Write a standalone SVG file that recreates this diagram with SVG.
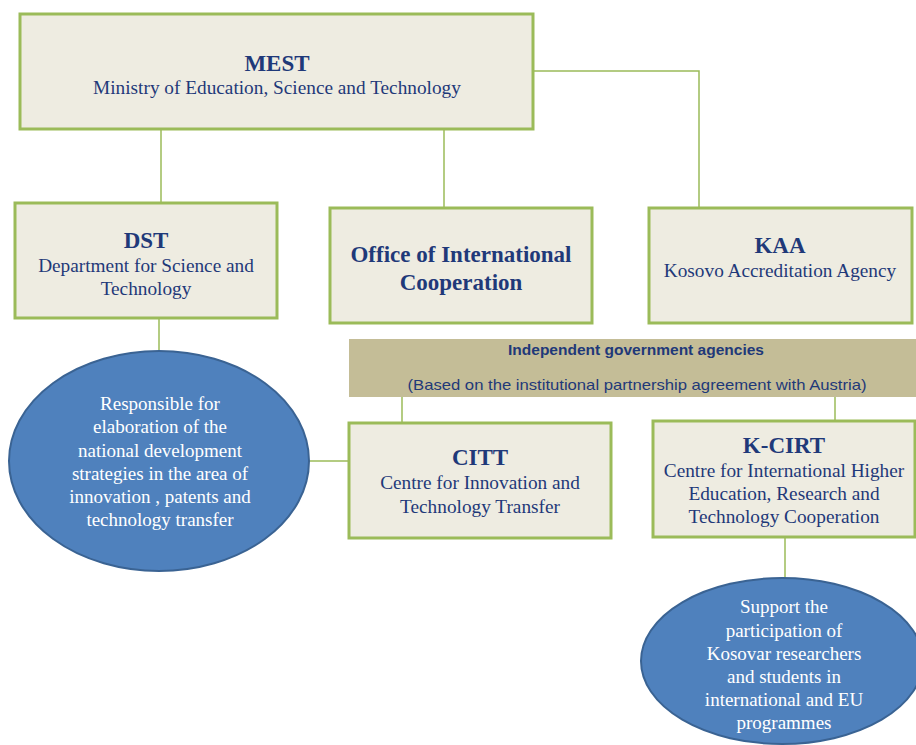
<svg xmlns="http://www.w3.org/2000/svg" width="916" height="745" viewBox="0 0 916 745">
<style>
.box{fill:#eeece1;stroke:#9bbb59;stroke-width:3}
.oval{fill:#4f81bd;stroke:#3a6393;stroke-width:2}
.conn{fill:none;stroke:#9bbb59;stroke-width:1.5}
.t{font-family:"Liberation Serif","Times New Roman",serif;fill:#1f3979;text-anchor:middle;font-size:19.3px}
.b{font-weight:bold;font-size:23px}
.w{font-family:"Liberation Serif","Times New Roman",serif;fill:#ffffff;text-anchor:middle;font-size:19px}
.s{font-family:"Liberation Sans",Arial,sans-serif;fill:#1f3979;text-anchor:middle;font-size:15px}
</style>
<rect width="916" height="745" fill="#ffffff"/>
<g id="connectors">
<polyline class="conn" points="533,71 699,71 699,208"/>
<line class="conn" x1="161" y1="129" x2="161" y2="203"/>
<line class="conn" x1="444" y1="129" x2="444" y2="208"/>
<line class="conn" x1="159" y1="318" x2="159" y2="351"/>
<line class="conn" x1="309" y1="461" x2="349" y2="461"/>
<line class="conn" x1="402" y1="397" x2="402" y2="423"/>
<line class="conn" x1="835" y1="397" x2="835" y2="421"/>
<line class="conn" x1="785" y1="537" x2="785" y2="578"/>
</g>
<g id="mest">
<rect class="box" x="20" y="14" width="513" height="115"/>
<text class="t b" x="277" y="71">MEST</text>
<text class="t" x="277" y="94">Ministry of Education, Science and Technology</text>
</g>
<g id="dst">
<rect class="box" x="15" y="203" width="262" height="115"/>
<text class="t b" x="146" y="248">DST</text>
<text class="t" x="146" y="272">Department for Science and</text>
<text class="t" x="146" y="295">Technology</text>
</g>
<g id="office">
<rect class="box" x="330" y="208" width="262" height="115"/>
<text class="t b" x="461" y="262">Office of International</text>
<text class="t b" x="461" y="290">Cooperation</text>
</g>
<g id="kaa">
<rect class="box" x="649" y="208" width="263" height="115"/>
<text class="t b" x="780" y="253">KAA</text>
<text class="t" x="780" y="277">Kosovo Accreditation Agency</text>
</g>
<g id="banner">
<rect x="349" y="339" width="567" height="58" fill="#c4bd97"/>
<text class="s" x="636" y="355" font-weight="bold" textLength="256" lengthAdjust="spacingAndGlyphs">Independent government agencies</text>
<text class="s" x="637" y="390" textLength="459" lengthAdjust="spacingAndGlyphs">(Based on the institutional partnership agreement with Austria)</text>
</g>
<g id="dst-role">
<ellipse class="oval" cx="159" cy="461" rx="150" ry="110"/>
<text class="w" x="160" y="410">Responsible for</text>
<text class="w" x="160" y="433">elaboration of the</text>
<text class="w" x="160" y="457">national development</text>
<text class="w" x="160" y="480">strategies in the area of</text>
<text class="w" x="160" y="503">innovation , patents and</text>
<text class="w" x="160" y="526">technology transfer</text>
</g>
<g id="citt">
<rect class="box" x="349" y="423" width="262" height="115"/>
<text class="t b" x="480" y="465">CITT</text>
<text class="t" x="480" y="489">Centre for Innovation and</text>
<text class="t" x="480" y="513">Technology Transfer</text>
</g>
<g id="kcirt">
<rect class="box" x="653" y="421" width="262" height="116"/>
<text class="t b" x="784" y="453">K-CIRT</text>
<text class="t" x="784" y="477">Centre for International Higher</text>
<text class="t" x="784" y="500">Education, Research and</text>
<text class="t" x="784" y="523">Technology Cooperation</text>
</g>
<g id="kcirt-role">
<ellipse class="oval" cx="782" cy="661" rx="141" ry="83"/>
<text class="w" x="784" y="613">Support the</text>
<text class="w" x="784" y="637">participation of</text>
<text class="w" x="784" y="660">Kosovar researchers</text>
<text class="w" x="784" y="683">and students in</text>
<text class="w" x="784" y="706">international and EU</text>
<text class="w" x="784" y="729">programmes</text>
</g>
</svg>
